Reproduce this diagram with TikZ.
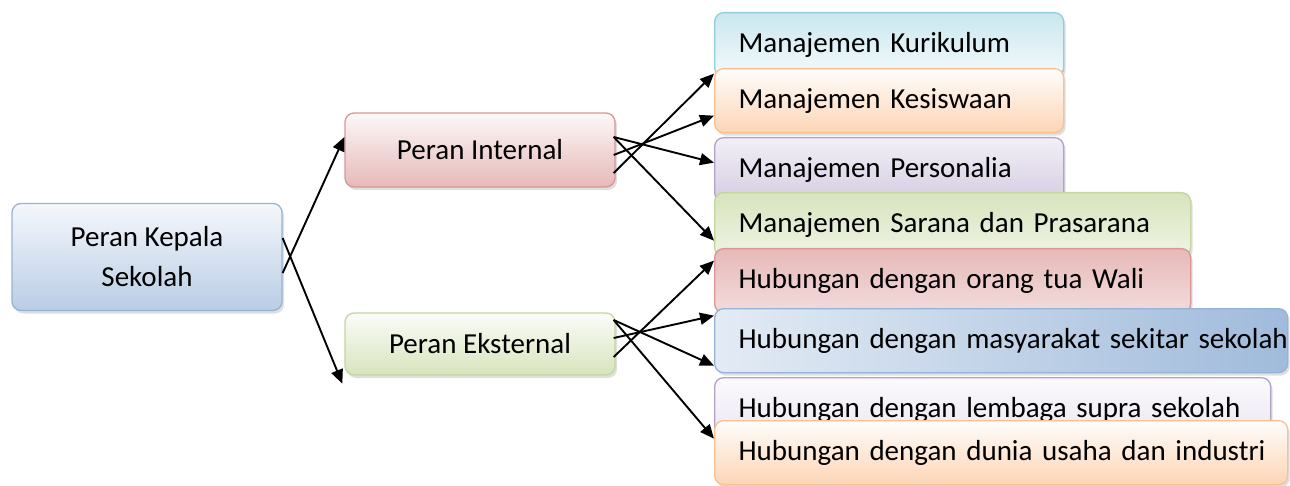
\documentclass[tikz,border=0pt]{standalone}
\usepackage{fontspec}
\setmainfont{Carlito}
\usetikzlibrary{arrows.meta,shadows}

\definecolor{blueline}{HTML}{95B3D7}
\definecolor{bluefill}{HTML}{B9CDE5}
\definecolor{redline}{HTML}{D99694}
\definecolor{redfill}{HTML}{E6B9B8}
\definecolor{greenline}{HTML}{C3D69B}
\definecolor{greenfill}{HTML}{D7E4BD}
\definecolor{cyanline}{HTML}{93CDDD}
\definecolor{cyanfill}{HTML}{C9E7EE}
\definecolor{orangeline}{HTML}{FAC090}
\definecolor{orangefill}{HTML}{FCD5B5}
\definecolor{purpleline}{HTML}{B3A2C7}
\definecolor{purplefill}{HTML}{D5CCE2}

\begin{document}
\begin{tikzpicture}[x=1pt, y=-1pt, >={Triangle[length=14pt,width=12pt]},
    box/.style={rounded corners=9pt, line width=1.3pt,
      drop shadow={shadow xshift=2pt, shadow yshift=-3pt, opacity=0.25}},
    role/.style={box, minimum width=270pt, align=center,
      font=\fontsize{29}{40}\selectfont},
    task/.style={box, anchor=north west, minimum height=64pt, inner xsep=0pt,
      align=left, execute at begin node={\hspace*{24pt}\hbox\bgroup},
      execute at end node=\egroup, font=\fontsize{29}{34}\selectfont},
    link/.style={->, line width=1.9pt}]
    \useasboundingbox (0,0) rectangle (1290,486);
    % roles
    \node[role, minimum height=107pt, draw=blueline, top color=white!85!bluefill, bottom color=bluefill]
        (kep) at (147,257) {Peran Kepala\\Sekolah};
    \node[role, minimum height=74pt, draw=redline, top color=white!90!redfill, bottom color=redfill]
        (int) at (480,150) {Peran Internal};
    \node[role, minimum height=62pt, draw=greenline, top color=white!90!greenfill, bottom color=greenfill]
        (eks) at (480,344) {Peran Eksternal};
    % tasks, drawn top to bottom so each one covers the one above
    \node[task, text width=349pt, draw=cyanline, top color=cyanfill, bottom color=white!80!cyanfill]
        (kur) at (714,12) {Manajemen Kurikulum};
    \node[task, text width=349pt, draw=orangeline, top color=white!95!orangefill, bottom color=orangefill]
        (kes) at (714,68) {Manajemen Kesiswaan};
    \node[task, text width=349pt, draw=purpleline, top color=white!70!purplefill, bottom color=purplefill]
        (pers) at (714,137) {Manajemen Personalia};
    \node[task, text width=476pt, draw=greenline, top color=greenfill, bottom color=white!60!greenfill]
        (sar) at (714,192) {Manajemen Sarana dan Prasarana};
    \node[task, text width=476pt, draw=redline, top color=redfill, bottom color=white!50!redfill]
        (wal) at (714,248) {Hubungan dengan orang tua Wali};
    \node[task, text width=573pt, draw=blueline, left color=white!60!bluefill, right color=blueline!90]
        (mas) at (714,308) {Hubungan dengan masyarakat sekitar sekolah};
    \node[task, text width=556pt, draw=purpleline, top color=white!90!purplefill, bottom color=white!50!purplefill]
        (lem) at (714,377) {Hubungan dengan lembaga supra sekolah};
    \node[task, text width=573pt, draw=orangeline, top color=white!95!orangefill, bottom color=orangefill]
        (dun) at (714,420) {Hubungan dengan dunia usaha dan industri};
    % connectors
    \draw[link] ([yshift=19pt]kep.east) -- ([xshift=-2pt,yshift=-8pt]eks.south west);
    \draw[link] ([yshift=-16pt]kep.east) -- ([yshift=13pt]int.west);
    \draw[link] ([xshift=-2pt,yshift=13pt]int.east) -- ([yshift=7pt]pers.west);
    \draw[link] ([xshift=-2pt,yshift=13pt]int.east) -- ([yshift=-16pt]sar.west);
    \draw[link] ([xshift=-2pt,yshift=-5pt]int.east) -- ([yshift=-15pt]kes.west);
    \draw[link] ([xshift=-2pt,yshift=-23pt]int.east) -- ([yshift=-29pt]kur.west);
    \draw[link] ([xshift=-2pt,yshift=24pt]eks.east) -- ([yshift=-25pt]mas.west);
    \draw[link] ([xshift=-2pt,yshift=24pt]eks.east) -- ([yshift=14pt]dun.west);
    \draw[link] ([xshift=-2pt,yshift=6pt]eks.east) -- ([yshift=25pt]mas.west);
    \draw[link] ([xshift=-2pt,yshift=-13pt]eks.east) -- ([yshift=20pt]wal.west);
\end{tikzpicture}
\end{document}
